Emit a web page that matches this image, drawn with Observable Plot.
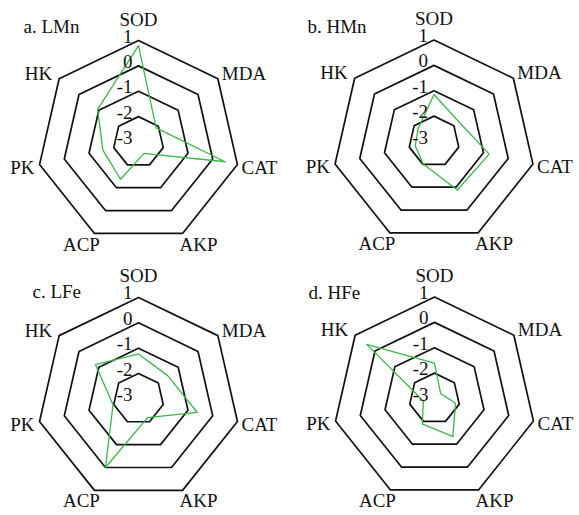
<!DOCTYPE html>
<html>
<head>
<meta charset="utf-8">
<script src="https://cdn.jsdelivr.net/npm/d3@7"></script>
<script src="https://cdn.jsdelivr.net/npm/@observablehq/plot@0.6"></script>
<style>
  html, body { margin: 0; padding: 0; background: #fff; }
  #wrap { position: relative; width: 579px; height: 515px; overflow: hidden; }
  #wrap > div { position: absolute; }
</style>
</head>
<body>
<div id="wrap"></div>
<script>
// ---- data ----
const categories = ["SOD", "MDA", "CAT", "AKP", "ACP", "PK", "HK"];
const ringLevels = [-2, -1, 0, 1];
const tickLabels = [1, 0, -1, -2, -3];
const panelTitles = ["a. LMn", "b. HMn", "c. LFe", "d. HFe"];
const valuesLMn = [0.80, -2.11, 0.50, -2.50, -1.37, -1.56, -0.94];
const valuesHMn = [-1.15, -1.75, -0.77, -0.88, -2.02, -2.24, -2.20];
const valuesLFe = [-1.23, -1.53, -0.63, -2.18, 0.00, -1.97, -0.83];
const valuesHFe = [-1.61, -2.69, -2.15, -1.33, -1.89, -2.55, 0.42];
const seriesValues = [valuesLMn, valuesHMn, valuesLFe, valuesHFe];

// ---- layout ----
const rMin = -3, rMax = 1;
const R = 101.5;
const panelBoxes = [
  {left: 0,   top: 0,   w: 290, h: 258, cx: 138,   cy: 141.5, tx: 23, ty: 26},
  {left: 289, top: 0,   w: 290, h: 258, cx: 144.5, cy: 141,   tx: 18, ty: 26},
  {left: 0,   top: 257, w: 290, h: 258, cx: 138,   cy: 141.4, tx: 32, ty: 34},
  {left: 289, top: 257, w: 290, h: 258, cx: 145,   cy: 141,   tx: 19, ty: 35}
];
const font = "Liberation Serif, Times New Roman, serif";
const green = "#3db54a";

const n = categories.length;
const angle = i => i * 2 * Math.PI / n;
const rad = v => (v - rMin) / (rMax - rMin);
const px = p => p / R; // pixel -> normalized units

// label offsets (pixels, screen direction: +dy = down) relative to the outer vertex
function labelSpec(i) {
  const s = Math.sin(angle(i)), c = Math.cos(angle(i));
  if (Math.abs(s) < 0.1) return {anchor: "middle", dx: 0, dy: -21};
  if (c < -0.5) return {anchor: "middle", dx: s > 0 ? 16 : -13, dy: 11};
  if (c > 0.3) return {anchor: s > 0 ? "start" : "end", dx: s > 0 ? 4 : -7, dy: -5};
  return {anchor: s > 0 ? "start" : "end", dx: s > 0 ? 4 : -5, dy: 3};
}

const wrap = document.getElementById("wrap");

panelBoxes.forEach((box, k) => {
  const rings = ringLevels.flatMap(level =>
    categories.map((cat, i) => ({level, i, x: rad(level) * Math.sin(angle(i)), y: rad(level) * Math.cos(angle(i))}))
  );
  const pts = categories.map((cat, i) => {
    const v = seriesValues[k][i];
    return {cat, v, x: rad(v) * Math.sin(angle(i)), y: rad(v) * Math.cos(angle(i))};
  });
  const labels = categories.map((cat, i) => {
    const sp = labelSpec(i);
    return {cat, anchor: sp.anchor, x: Math.sin(angle(i)) + px(sp.dx), y: Math.cos(angle(i)) - px(sp.dy)};
  });
  const ticks = tickLabels.map(t => ({t, x: px(-6), y: rad(t) + px(4)}));
  const textMarks = ["start", "middle", "end"].map(a =>
    Plot.text(labels.filter(d => d.anchor === a), {
      x: "x", y: "y", text: "cat", textAnchor: a, lineAnchor: "middle",
      fontSize: 19, fill: "#111"
    })
  );

  const chart = Plot.plot({
    width: box.w,
    height: box.h,
    margin: 0,
    style: {fontFamily: font, background: "white", overflow: "visible"},
    x: {domain: [-1, 1], range: [box.cx - R, box.cx + R], axis: null},
    y: {domain: [-1, 1], range: [box.cy + R, box.cy - R], axis: null},
    marks: [
      Plot.line(rings, {x: "x", y: "y", z: "level", curve: "linear-closed", stroke: "#111", strokeWidth: 1.7}),
      Plot.line(pts, {x: "x", y: "y", curve: "linear-closed", stroke: green, strokeWidth: 1.3}),
      Plot.text(ticks, {x: "x", y: "y", text: d => String(d.t), textAnchor: "end", lineAnchor: "middle", fontSize: 19, fill: "#111"}),
      ...textMarks,
      Plot.text([panelTitles[k]], {frameAnchor: "top-left", dx: box.tx, dy: box.ty, text: d => d, textAnchor: "start", lineAnchor: "middle", fontSize: 19, fill: "#111"})
    ]
  });
  const holder = document.createElement("div");
  holder.style.left = box.left + "px";
  holder.style.top = box.top + "px";
  holder.appendChild(chart);
  wrap.appendChild(holder);
});
</script>
</body>
</html>
